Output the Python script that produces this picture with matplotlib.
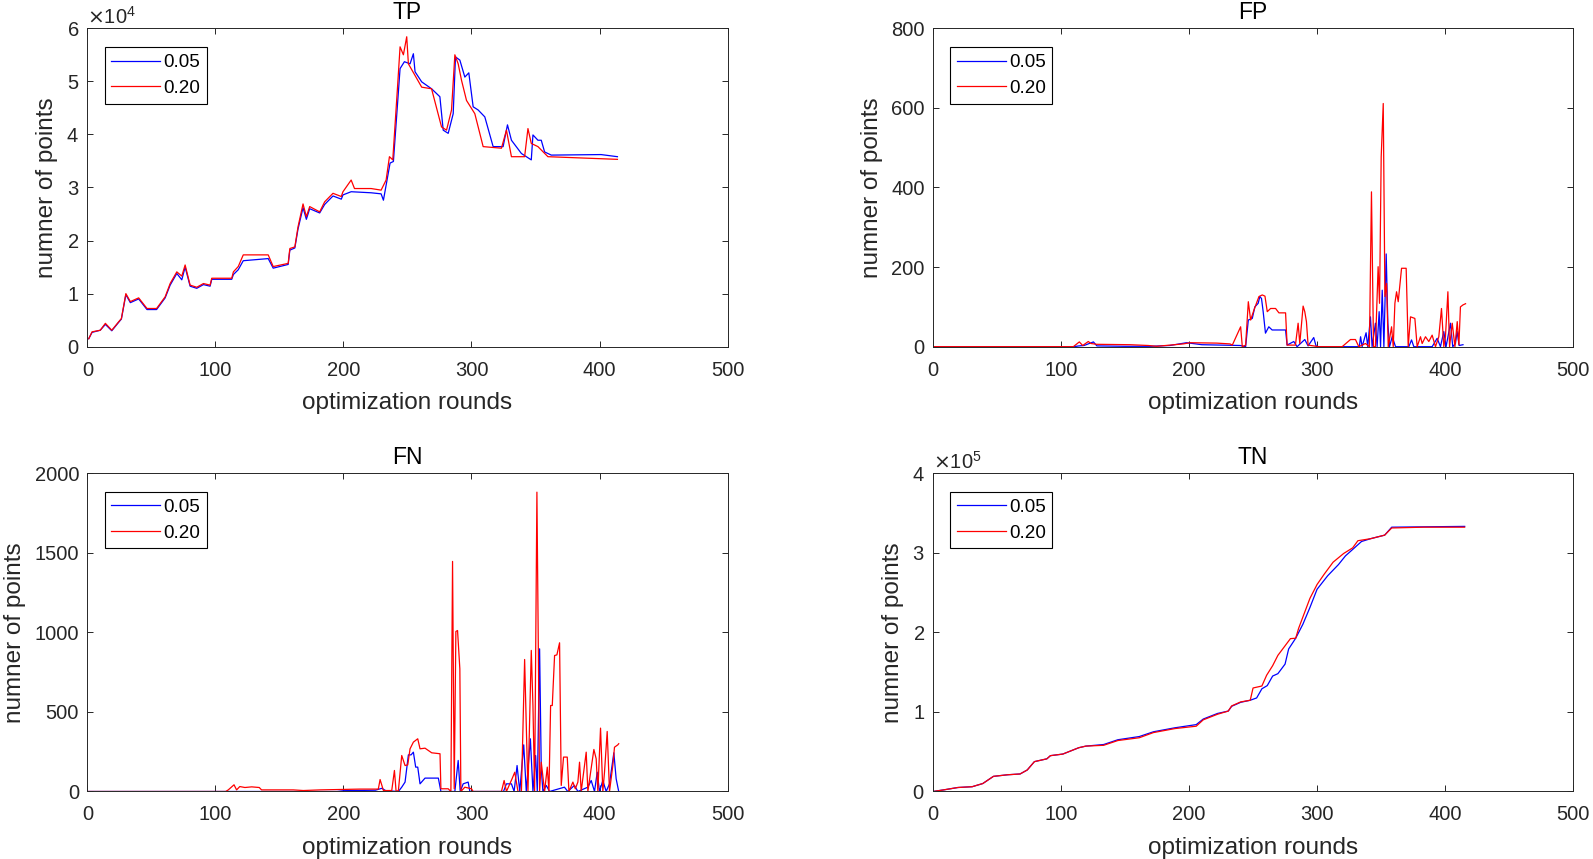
import numpy as np
import matplotlib
matplotlib.use("Agg")
import matplotlib.pyplot as plt
from matplotlib.ticker import ScalarFormatter

plt.rcParams['font.family'] = ['Liberation Sans', 'DejaVu Sans']

# readings: (optimization round, value)
# TP and TN values are in units of 1e4 and 1e5
rounds_ticks = [0, 100, 200, 300, 400, 500]
labels = ['0.05', '0.20']

tp_blue = [(1, 0.15), (3.6, 0.27), (10, 0.31), (14, 0.42), (19, 0.30), (24.4, 0.46), (26.5, 0.52),
           (30, 0.98), (33.5, 0.83), (40, 0.90), (46.5, 0.70), (54, 0.70), (60.7, 0.92), (64.6, 1.16),
           (69.8, 1.38), (73.7, 1.26), (76.3, 1.50), (80.2, 1.14), (85.4, 1.10), (90.6, 1.17),
           (95.8, 1.14), (97.1, 1.27), (112.7, 1.27), (114, 1.36), (117.8, 1.45), (121.7, 1.62),
           (141.2, 1.66), (145.1, 1.48), (156.8, 1.55), (158.1, 1.82), (162, 1.86), (164.5, 2.22),
           (168.4, 2.62), (171, 2.40), (173.6, 2.60), (181.4, 2.52), (185.3, 2.68), (191.8, 2.84),
           (198.3, 2.78), (199.6, 2.86), (206, 2.92), (221.6, 2.90), (229.4, 2.88), (231.2, 2.76),
           (236.4, 3.46), (239, 3.49), (244.2, 5.24), (247.6, 5.37), (252, 5.33), (254.6, 5.52),
           (255.9, 5.18), (261.1, 4.99), (268.8, 4.86), (275.3, 4.71), (277.9, 4.08), (281.8, 4.02),
           (285.7, 4.39), (287.5, 5.46), (290.9, 5.40), (294.8, 5.08), (297.9, 5.16), (301.3, 4.52),
           (305.2, 4.46), (310.4, 4.33), (316.9, 3.77), (324.7, 3.77), (328.1, 4.18), (331.2, 3.89),
           (339, 3.64), (346.7, 3.52), (348, 3.99), (351.9, 3.89), (354.5, 3.89), (357.1, 3.67),
           (362.3, 3.61), (401.2, 3.62), (414, 3.58)]

tp_red = [(1, 0.15), (3.6, 0.28), (10, 0.31), (14, 0.44), (19, 0.31), (24.4, 0.47), (26.5, 0.53),
          (30, 1.0), (33.5, 0.85), (40, 0.92), (46.5, 0.72), (54, 0.72), (60.7, 0.94), (64.6, 1.19),
          (69.8, 1.41), (73.7, 1.33), (76.3, 1.54), (80.2, 1.16), (85.4, 1.12), (90.6, 1.19),
          (95.8, 1.16), (97.1, 1.29), (112.7, 1.29), (114, 1.41), (117.8, 1.51), (121.7, 1.73),
          (141.2, 1.73), (145.1, 1.51), (156.8, 1.57), (158.1, 1.85), (162, 1.88), (164.5, 2.26),
          (168.4, 2.69), (171, 2.45), (173.6, 2.64), (181.4, 2.54), (185.3, 2.73), (191.8, 2.89),
          (198.3, 2.83), (199.6, 2.92), (206, 3.14), (208.6, 2.98), (221.6, 2.98), (229.4, 2.95),
          (233.3, 3.14), (235.9, 3.58), (238.5, 3.52), (242.4, 4.96), (244.2, 5.65), (246.8, 5.50),
          (249.4, 5.84), (250.7, 5.33), (261.1, 4.89), (268.8, 4.86), (276.6, 4.14), (280.5, 4.08),
          (284.4, 4.46), (287, 5.50), (289.6, 5.33), (292.2, 5.02), (296.1, 4.64), (302.6, 4.39),
          (309.1, 3.77), (323.4, 3.74), (327.3, 4.08), (331.2, 3.58), (341.5, 3.58), (344.1, 4.11),
          (346.7, 3.83), (351.9, 3.77), (359.7, 3.58), (414, 3.53)]

fp_blue = [(0, 0), (110, 0), (114, 2), (118, 3), (125.3, 12), (128, 2), (150, 1), (170, 1), (185, 3),
           (198, 10), (210, 5), (240, 3), (244.2, 0), (246.3, 67), (249.4, 71), (251.4, 100),
           (254, 109), (255.3, 126), (256.6, 121), (257.9, 88), (259.7, 34), (262.3, 50), (264.9, 42),
           (275.4, 42), (276.6, 4), (281.8, 13), (284.4, 0), (290.4, 18), (293, 2), (297.4, 23),
           (299.2, 2), (301, 0), (333, 0), (334, 25), (335.2, 0), (338.3, 35), (339.6, 0), (341.7, 75),
           (343, 0), (345.6, 59), (346.9, 0), (348.5, 88), (349.6, 0), (350.9, 142), (352.2, 0),
           (354, 233), (355.3, 59), (356.6, 0), (358.7, 25), (361.3, 0), (371.7, 0), (373.8, 17),
           (375.6, 0), (389.9, 0), (393.8, 21), (396.4, 0), (399, 38), (400.8, 0), (404.2, 59),
           (406, 0), (408.1, 8), (409.4, 38), (411, 3), (414, 5)]

fp_red = [(0, 0), (109.6, 0), (114.3, 12), (116.9, 3), (121.3, 13), (123.4, 8), (127.8, 6), (153.9, 5),
          (168.2, 3), (174.7, 1), (185.2, 4), (195.5, 7), (200.8, 10), (221.6, 9), (232, 7),
          (233.8, 4), (240.3, 50), (241.6, 0), (244.2, 4), (246.3, 113), (248.1, 67), (250.7, 92),
          (254.6, 126), (257.2, 130), (259.3, 127), (261.1, 88), (263.7, 96), (267.6, 96),
          (270.2, 85), (275.4, 85), (276.6, 4), (283.1, 4), (285.2, 59), (286.5, 8), (289.1, 102),
          (290.4, 88), (291.7, 63), (293, 4), (301.4, 0), (319.6, 0), (326.1, 18), (330, 18),
          (332.6, 0), (337.8, 8), (340.9, 0), (342.5, 389), (344.1, 0), (345.6, 0), (347.7, 201),
          (348.8, 109), (350.1, 477), (351.7, 611), (353, 126), (354.3, 159), (355.6, 0), (358.2, 50),
          (359.5, 0), (360.8, 109), (362.1, 138), (363.4, 113), (366, 197), (369.6, 197), (371.2, 0),
          (373, 75), (376.4, 71), (378.2, 0), (380.8, 25), (382.1, 8), (384.7, 25), (387.3, 13),
          (389.9, 29), (392.5, 0), (395.1, 25), (397.2, 96), (399, 0), (400.3, 25), (402.2, 138),
          (403.5, 0), (405.6, 59), (407.7, 0), (409.5, 63), (410.8, 5), (412, 100), (414, 105),
          (416, 108)]

fn_blue = [(0, 0), (195, 0), (200, 5), (225, 8), (230, 20), (233, 5), (242.9, 0), (245.5, 27),
           (248.1, 59), (250.7, 230), (252.8, 230), (254.6, 247), (256.4, 153), (258, 153),
           (259.8, 48), (263.7, 84), (274.1, 84), (276.1, 0), (287, 0), (289.6, 195), (291.2, 0),
           (293.5, 48), (297.4, 59), (298.7, 0), (325, 0), (327.3, 48), (331.2, 48), (333.3, 0),
           (335.6, 163), (337.7, 0), (340.8, 293), (342.8, 0), (346, 331), (348, 0), (350.1, 226),
           (351.4, 0), (353.2, 896), (354.5, 142), (355.8, 0), (358.4, 38), (361, 0), (372.6, 27),
           (375.2, 0), (380.4, 38), (383.1, 0), (390.9, 27), (393.5, 69), (396.1, 0), (398.2, 121),
           (400, 0), (402.6, 69), (405.2, 0), (407.8, 48), (411.2, 243), (413, 80), (415, 0)]

fn_red = [(0, 0), (108, 0), (110, 10), (114.5, 42), (116.5, 10), (119, 31), (123, 25), (128.3, 29),
          (134.2, 25), (136, 10), (160.8, 10), (168.6, 6), (181.6, 10), (212.9, 15), (227.2, 15),
          (228.6, 75), (231.2, 6), (237.7, 6), (239.8, 132), (241.1, 0), (242.9, 6), (245.5, 226),
          (248.1, 163), (250.2, 167), (252, 268), (254.6, 310), (258, 331), (259.8, 268),
          (263.7, 272), (268.9, 243), (275.4, 237), (276.1, 17), (281.8, 17), (283.9, 0),
          (285.2, 1445), (286.5, 17), (287.8, 1005), (289.1, 1011), (290.9, 770), (291.7, 0),
          (294.8, 27), (300, 17), (301.3, 0), (323.4, 0), (325.5, 69), (327.3, 0), (331.7, 80),
          (333.8, 121), (336.3, 0), (339, 0), (341.5, 829), (344.1, 0), (346.7, 886), (348, 540),
          (349.3, 0), (351.1, 1880), (353.2, 0), (354.5, 184), (357.1, 0), (359.2, 153), (360.5, 0),
          (361.8, 540), (363.1, 540), (364.9, 854), (366.7, 858), (368.8, 934), (370.1, 38),
          (371.9, 216), (374.8, 216), (376.1, 0), (379.2, 59), (381.1, 17), (383.1, 59), (384.4, 184),
          (385.7, 0), (389.6, 247), (390.9, 0), (395.6, 264), (397.4, 205), (398.7, 0), (400.8, 398),
          (402.6, 0), (403.9, 121), (406, 377), (407.8, 0), (410.4, 163), (411.7, 278), (414.3, 293),
          (415, 300)]

tn_blue = [(0, 0), (8.3, 0.02), (19.4, 0.05), (30.6, 0.06), (38.9, 0.10), (47.2, 0.19), (58.3, 0.21),
           (68, 0.22), (73.6, 0.27), (79.2, 0.375), (88.9, 0.41), (91.7, 0.45), (101.4, 0.47),
           (113.9, 0.55), (119.4, 0.57), (133.3, 0.59), (144.4, 0.65), (161.1, 0.69), (172.2, 0.75),
           (188.9, 0.80), (205.6, 0.84), (211.1, 0.91), (222.2, 0.98), (230.6, 1.01), (233.3, 1.07),
           (240.3, 1.12), (247.8, 1.146), (252.8, 1.175), (256.9, 1.29), (261.1, 1.33), (265.3, 1.45),
           (269.4, 1.48), (275, 1.60), (277.8, 1.79), (283.3, 1.925), (288.9, 2.10), (294.4, 2.31),
           (300, 2.54), (308.3, 2.71), (316.7, 2.85), (322.2, 2.96), (327.8, 3.04), (334.7, 3.14),
           (341.7, 3.175), (352.8, 3.22), (358.3, 3.32), (415.3, 3.33)]

tn_red = [(0, 0), (8.3, 0.02), (19.4, 0.05), (30.6, 0.06), (38.9, 0.10), (47.2, 0.19), (58.3, 0.21),
          (68, 0.22), (73.6, 0.27), (79.2, 0.375), (88.9, 0.41), (91.7, 0.45), (101.4, 0.47),
          (113.9, 0.55), (119.4, 0.57), (133.3, 0.58), (144.4, 0.64), (161.1, 0.675), (172.2, 0.74),
          (188.9, 0.79), (205.6, 0.82), (211.1, 0.90), (222.2, 0.97), (230.6, 1.01), (233.3, 1.075),
          (240.3, 1.125), (247.8, 1.146), (250, 1.30), (256.9, 1.325), (260.6, 1.46), (265.3, 1.58),
          (269.4, 1.71), (275, 1.83), (279.2, 1.92), (283.3, 1.925), (285.6, 2.05), (290.3, 2.25),
          (294.4, 2.425), (300, 2.60), (305.6, 2.73), (312.5, 2.88), (320.8, 2.99), (327.8, 3.06),
          (331.9, 3.15), (341.7, 3.175), (352.8, 3.22), (358.3, 3.31), (383.3, 3.32), (415.3, 3.32)]

panels = [
    ('TP', tp_blue, tp_red, 1e4, [0, 1, 2, 3, 4, 5, 6]),
    ('FP', fp_blue, fp_red, 1, [0, 200, 400, 600, 800]),
    ('FN', fn_blue, fn_red, 1, [0, 500, 1000, 1500, 2000]),
    ('TN', tn_blue, tn_red, 1e5, [0, 1, 2, 3, 4]),
]

dark = '#262626'
fig = plt.figure(figsize=(15.93, 8.59), dpi=100)

# axes boxes in figure fractions, MATLAB-like 2x2 layout
lefts = [0.0549, 0.5857]
bottoms = [0.5964, 0.0786]
w, h = 0.4018, 0.3707

for i, (name, blue, red, scale, yt) in enumerate(panels):
    ax = fig.add_axes([lefts[i % 2], bottoms[i // 2], w, h])
    bx, by = zip(*blue)
    rx, ry = zip(*red)
    ax.plot(bx, np.array(by) * scale, color=(0, 0, 1), lw=0.9, label=labels[0])
    ax.plot(rx, np.array(ry) * scale, color=(1, 0, 0), lw=0.9, label=labels[1])

    ax.set_xlim(0, 500)
    ax.set_xticks(rounds_ticks)
    ax.set_ylim(0, yt[-1] * scale)
    ax.set_yticks(np.array(yt) * scale)
    if scale > 1:
        fmt = ScalarFormatter(useMathText=True)
        fmt.set_powerlimits((0, 0))
        ax.yaxis.set_major_formatter(fmt)
        ax.yaxis.get_offset_text().set_fontsize(14.5)
        ax.yaxis.get_offset_text().set_color(dark)

    ax.tick_params(direction='in', top=True, right=True, length=4.5, width=0.7,
                   labelsize=14.5, colors=dark)
    ax.tick_params(axis='x', pad=10)
    ax.tick_params(axis='y', pad=6)
    for sp in ax.spines.values():
        sp.set_linewidth(0.7)
        sp.set_color(dark)

    ax.set_title(name, fontsize=16.5, color='black', pad=6.5)
    ax.set_xlabel('optimization rounds', fontsize=17.5, color=dark, labelpad=9)
    ax.set_ylabel('numner of points', fontsize=17.5, color=dark, labelpad=6)

    leg = ax.legend(loc='upper left', bbox_to_anchor=(0.027, 0.94), fontsize=13.6,
                    fancybox=False, framealpha=1, edgecolor='black', handlelength=2.6,
                    handletextpad=0.15, borderpad=0.35, labelspacing=0.45, borderaxespad=0)
    leg.get_frame().set_linewidth(0.8)

fig.savefig('out.png', dpi=100)
